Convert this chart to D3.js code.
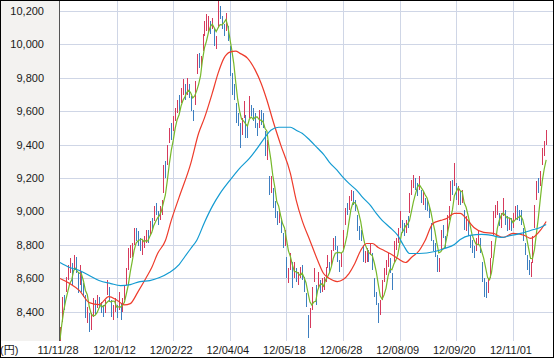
<!DOCTYPE html>
<html><head><meta charset="utf-8">
<script src="https://cdn.jsdelivr.net/npm/d3@7"></script>
<style>
body{margin:0;background:#fff}
svg{display:block}
text{font-family:"Liberation Sans",Arial,"Noto Sans CJK JP",sans-serif;font-size:11px;fill:#1a1a1a}
</style>
</head><body>
<svg id="c" width="554" height="359"></svg>
<script>
// Daily closes (index 0 = 11/11/28)
const prevClose = 8160;
const closes = [
8287,8477,8435,8597,8643,8695,8575,8722,8664,8537,
8654,8553,8519,8377,8402,8296,8336,8460,8396,8480,
8440,8423,8399,8455,8560,8488,8390,8422,8448,8386,
8500,8378,8466,8550,8640,8766,8766,8785,8883,8849,
8841,8793,8803,8809,8877,8831,8929,8917,9015,9003,
8948,8999,9053,9260,9238,9385,9485,9464,9554,9595,
9648,9634,9723,9723,9708,9777,9698,9638,9577,9769,
9930,9890,9900,10050,10123,10130,10142,10087,10128,10012,
10018,10255,10183,10115,10084,10110,10050,9820,9768,9688,
9547,9539,9459,9525,9638,9470,9464,9667,9589,9561,
9542,9470,9590,9561,9521,9350,9380,9119,9181,9045,
9009,8953,8973,8900,8801,8876,8611,8633,8729,8556,
8680,8593,8593,8657,8633,8543,8440,8296,8383,8533,
8639,8460,8625,8536,8568,8569,8648,8721,8655,8753,
8824,8798,8735,8663,8730,8874,9007,9003,9066,9104,
9073,9021,8896,8857,8851,8720,8725,8755,8727,8795,
8670,8508,8488,8366,8443,8567,8636,8695,8712,8658,
8556,8803,8804,8881,8979,8891,8885,8930,8928,9092,
9163,9171,9157,9133,9178,9070,9085,9034,9033,8984,
8840,8784,8775,8679,8680,8872,8870,8807,8960,8995,
9159,9123,9232,9086,9110,9069,9091,8906,8949,8870,
8797,8786,8746,8824,8863,8769,8596,8546,8534,8577,
8701,8806,8982,9003,9010,8932,8955,9056,8934,8929,
8929,8928,8946,9007,8975,8972,8964,8837,8757,8677,
8661,8665,8830,9024,9153,9143,9222,9366,9389,9423];
const highs = [
8310,8490,8500,8610,8680,8720,8690,8740,8730,8640,
8680,8640,8570,8500,8430,8390,8390,8480,8470,8500,
8490,8460,8440,8470,8590,8550,8470,8440,8480,8440,
8520,8450,8480,8560,8660,8780,8800,8810,8900,8900,
8880,8840,8830,8850,8890,8890,8940,8960,9030,9050,
9000,9030,9070,9280,9300,9400,9500,9530,9570,9620,
9670,9700,9740,9790,9760,9800,9760,9690,9610,9780,
9940,9950,9930,10060,10140,10180,10170,10140,10160,10100,
10050,10260,10230,10170,10120,10190,10110,9990,9830,9760,
9650,9590,9530,9560,9660,9580,9520,9690,9640,9620,
9590,9530,9610,9610,9590,9480,9430,9210,9210,9140,
9060,9000,9000,8960,8870,8890,8730,8660,8750,8700,
8700,8660,8640,8670,8680,8610,8510,8380,8420,8550,
8660,8560,8640,8590,8600,8610,8670,8740,8700,8770,
8840,8850,8790,8710,8750,8890,9020,9050,9090,9130,
9120,9070,8980,8910,8890,8800,8760,8780,8770,8810,
8750,8600,8520,8450,8470,8590,8660,8710,8750,8720,
8630,8820,8840,8900,9000,8950,8930,8950,8970,9110,
9190,9220,9200,9170,9210,9130,9120,9080,9070,9030,
8930,8830,8810,8740,8720,8890,8920,8850,8980,9030,
9180,9190,9290,9170,9150,9120,9130,9010,8970,8940,
8850,8830,8790,8840,8890,8840,8700,8600,8580,8600,
8720,8820,9000,9040,9060,8990,8990,9080,9010,8970,
8960,8960,8990,9030,9040,9010,9010,8900,8810,8740,
8710,8700,8850,9040,9180,9200,9240,9380,9420,9490];
const lows = [
8225,8340,8410,8520,8590,8630,8560,8650,8630,8510,
8560,8520,8490,8360,8330,8280,8290,8370,8380,8420,
8420,8390,8370,8390,8500,8460,8370,8350,8400,8360,
8410,8350,8400,8470,8560,8650,8720,8730,8800,8820,
8790,8760,8740,8780,8810,8810,8860,8880,8940,8980,
8920,8950,8980,9110,9200,9280,9410,9430,9480,9540,
9590,9600,9650,9700,9670,9700,9680,9600,9540,9640,
9820,9860,9850,9960,10050,10080,10070,10060,10090,9990,
9970,10100,10150,10090,10050,10080,10020,9810,9700,9670,
9530,9510,9380,9460,9560,9440,9440,9560,9570,9540,
9500,9450,9500,9520,9500,9330,9310,9100,9110,9020,
8960,8920,8930,8870,8780,8790,8600,8570,8650,8540,
8600,8580,8560,8600,8590,8520,8430,8240,8300,8410,
8580,8440,8540,8510,8520,8530,8580,8660,8630,8680,
8760,8770,8700,8640,8670,8770,8920,8980,9010,9060,
9040,9000,8880,8830,8820,8700,8690,8700,8700,8740,
8650,8490,8440,8330,8380,8470,8580,8620,8670,8630,
8530,8700,8770,8810,8900,8870,8850,8870,8900,8990,
9100,9140,9130,9090,9130,9050,9040,9010,9000,8960,
8820,8760,8730,8640,8640,8760,8840,8780,8850,8950,
9060,9100,9150,9070,9040,9040,9050,8890,8880,8850,
8780,8750,8720,8760,8800,8750,8580,8490,8480,8510,
8600,8720,8860,8960,8980,8910,8900,8970,8920,8880,
8890,8880,8900,8950,8950,8940,8920,8820,8740,8650,
8620,8610,8690,8900,9070,9110,9150,9280,9330,9400];
// 5-day moving average (green), one value per day
const ma5 = [
8230,8330,8410,8470,8520,8569,8589,8646,8660,8639,
8630,8626,8585,8528,8501,8429,8386,8374,8378,8394,
8422,8440,8428,8439,8455,8465,8458,8463,8462,8427,
8429,8427,8436,8456,8507,8560,8638,8701,8768,8810,
8825,8830,8834,8819,8825,8823,8850,8873,8914,8939,
8962,8976,9004,9053,9100,9187,9284,9366,9425,9497,
9549,9579,9631,9665,9687,9713,9726,9709,9680,9692,
9722,9761,9813,9908,9979,10019,10069,10106,10122,10100,
10077,10100,10119,10117,10131,10149,10108,10036,9966,9887,
9775,9672,9600,9552,9542,9526,9511,9553,9566,9550,
9565,9566,9550,9545,9537,9498,9480,9386,9310,9215,
9147,9061,9032,8976,8927,8901,8832,8764,8730,8681,
8642,8638,8630,8616,8631,8604,8573,8514,8459,8439,
8458,8462,8528,8559,8566,8552,8589,8608,8632,8669,
8720,8750,8753,8755,8750,8760,8802,8855,8936,9011,
9051,9053,9032,8990,8940,8869,8810,8782,8756,8744,
8734,8691,8638,8565,8495,8474,8500,8541,8611,8654,
8651,8685,8707,8740,8805,8872,8888,8913,8923,8945,
9000,9057,9102,9143,9160,9142,9125,9100,9080,9041,
8995,8935,8883,8812,8752,8758,8775,8782,8838,8901,
8958,9009,9094,9119,9142,9124,9118,9052,9025,8977,
8923,8862,8830,8805,8803,8798,8760,8720,8662,8604,
8591,8633,8720,8814,8900,8947,8976,8991,8977,8961,
8961,8955,8933,8948,8957,8966,8973,8951,8901,8841,
8779,8719,8718,8771,8867,8963,9074,9181,9254,9308];
// 25-day moving average (red), read at sample days
const ma25Idx = [0,5,10,15,20,25,29,33,36,40,44,47,50,54,57,61,67,71,74,78,81,84,87,90,92,96,100,103,106,109,113,118,121,124,128,132,135,138,142,145,148,151,154,157,160,163,166,169,173,177,180,184,187,191,195,198,202,205,208,212,217,222,227,232,238,241,246,249];
const ma25Val = [8598,8568,8526,8454,8442,8490,8470,8440,8448,8520,8600,8664,8748,8826,8946,9084,9288,9468,9560,9708,9828,9918,9954,9960,9948,9918,9846,9768,9666,9546,9400,9228,9066,8946,8826,8706,8628,8598,8580,8592,8628,8688,8766,8808,8808,8784,8766,8748,8718,8694,8724,8766,8826,8928,8946,8958,8988,8988,8958,8904,8874,8868,8844,8868,8856,8838,8886,8940];
// 75-day moving average (blue), read at sample days
const ma75Idx = [0,5,10,15,20,26,31,36,41,46,51,56,61,64,67,70,74,78,82,87,92,97,101,105,108,112,118,121,124,128,132,135,138,142,145,148,152,155,159,162,165,169,173,176,179,184,192,197,202,205,210,216,221,226,231,236,241,246,249];
const ma75Val = [8694,8664,8646,8616,8586,8568,8556,8562,8580,8586,8604,8634,8682,8730,8778,8826,8934,9030,9108,9186,9258,9318,9378,9444,9486,9504,9504,9486,9468,9426,9378,9342,9294,9246,9204,9168,9126,9084,9036,8988,8946,8904,8856,8796,8748,8748,8760,8778,8802,8832,8856,8862,8856,8844,8856,8868,8886,8904,8922];
const tickIdx = [0,29,58,87,116,145,174,203,232];
const tickLabels = ["11/11/28","12/01/12","12/02/22","12/04/04","12/05/18","12/06/28","12/08/09","12/09/20","12/11/01"];
const yTicks = [8400,8600,8800,9000,9200,9400,9600,9800,10000,10200];
const slots = 253;

const W = 554, H = 359;
const L = 59, R = 553, B = 341;
const svg = d3.select("#c");

const x = d3.scaleLinear().domain([-0.5, slots - 0.5]).range([L, R]);
const y = d3.scaleLinear().domain([8224, 10266]).range([B, 0]);

svg.append("rect").attr("x",0).attr("y",0).attr("width",L).attr("height",B).attr("fill","#f3f2f0");
svg.append("rect").attr("x",L).attr("y",0).attr("width",R-L).attr("height",B).attr("fill","#fff");

const g = svg.append("g");
g.selectAll("line.h").data(yTicks).join("line")
  .attr("x1",L).attr("x2",R)
  .attr("y1",d=>Math.round(y(d))+0.5).attr("y2",d=>Math.round(y(d))+0.5)
  .attr("stroke","#cfd6e6").attr("stroke-width",1);
g.selectAll("line.v").data(tickIdx.slice(1)).join("line")
  .attr("x1",d=>Math.round(x(d))+0.5).attr("x2",d=>Math.round(x(d))+0.5)
  .attr("y1",0).attr("y2",B)
  .attr("stroke","#cfd6e6").attr("stroke-width",1);

svg.append("clipPath").attr("id","clip").append("rect").attr("x",L).attr("y",0).attr("width",R-L).attr("height",B);
const plot = svg.append("g").attr("clip-path","url(#clip)");

// daily bars, snapped to whole pixels
plot.selectAll("rect.bar").data(closes).join("rect")
  .attr("x",(d,i)=>Math.round(x(i)))
  .attr("width",1)
  .attr("y",(d,i)=>Math.round(y(highs[i])))
  .attr("height",(d,i)=>Math.max(1,Math.round(y(lows[i]))-Math.round(y(highs[i]))))
  .attr("fill",(d,i)=> d >= (i===0?prevClose:closes[i-1]) ? "#d63a5c" : "#3d7fc0")
  .attr("shape-rendering","crispEdges");

const line5 = d3.line().x((d,i)=>x(i)).y(d=>y(d));
plot.append("path").attr("d",line5(ma5)).attr("fill","none").attr("stroke","#76b82a").attr("stroke-width",1.2);
const lineS = d3.line().x(d=>x(d[0])).y(d=>y(d[1])).curve(d3.curveMonotoneX);
plot.append("path").attr("d",lineS(d3.zip(ma25Idx,ma25Val))).attr("fill","none").attr("stroke","#ee3b2b").attr("stroke-width",1.2);
plot.append("path").attr("d",lineS(d3.zip(ma75Idx,ma75Val))).attr("fill","none").attr("stroke","#139bd2").attr("stroke-width",1.2);

svg.append("line").attr("x1",L+0.5).attr("x2",L+0.5).attr("y1",0).attr("y2",B).attr("stroke","#555").attr("stroke-width",1);

svg.selectAll("text.y").data(yTicks).join("text")
  .attr("x",44).attr("y",d=>y(d)+4).attr("text-anchor","end")
  .text(d=>d3.format(",")(d));
svg.selectAll("text.x").data(tickIdx).join("text")
  .attr("x",d=>x(d)-2).attr("y",354).attr("text-anchor","middle")
  .text((d,i)=>tickLabels[i]);
svg.append("text").attr("x",0).attr("y",354).text("(円)");

svg.append("rect").attr("x",0.5).attr("y",0.5).attr("width",W-1).attr("height",H-2)
  .attr("fill","none").attr("stroke","#000").attr("stroke-width",1);
</script>
</body></html>
